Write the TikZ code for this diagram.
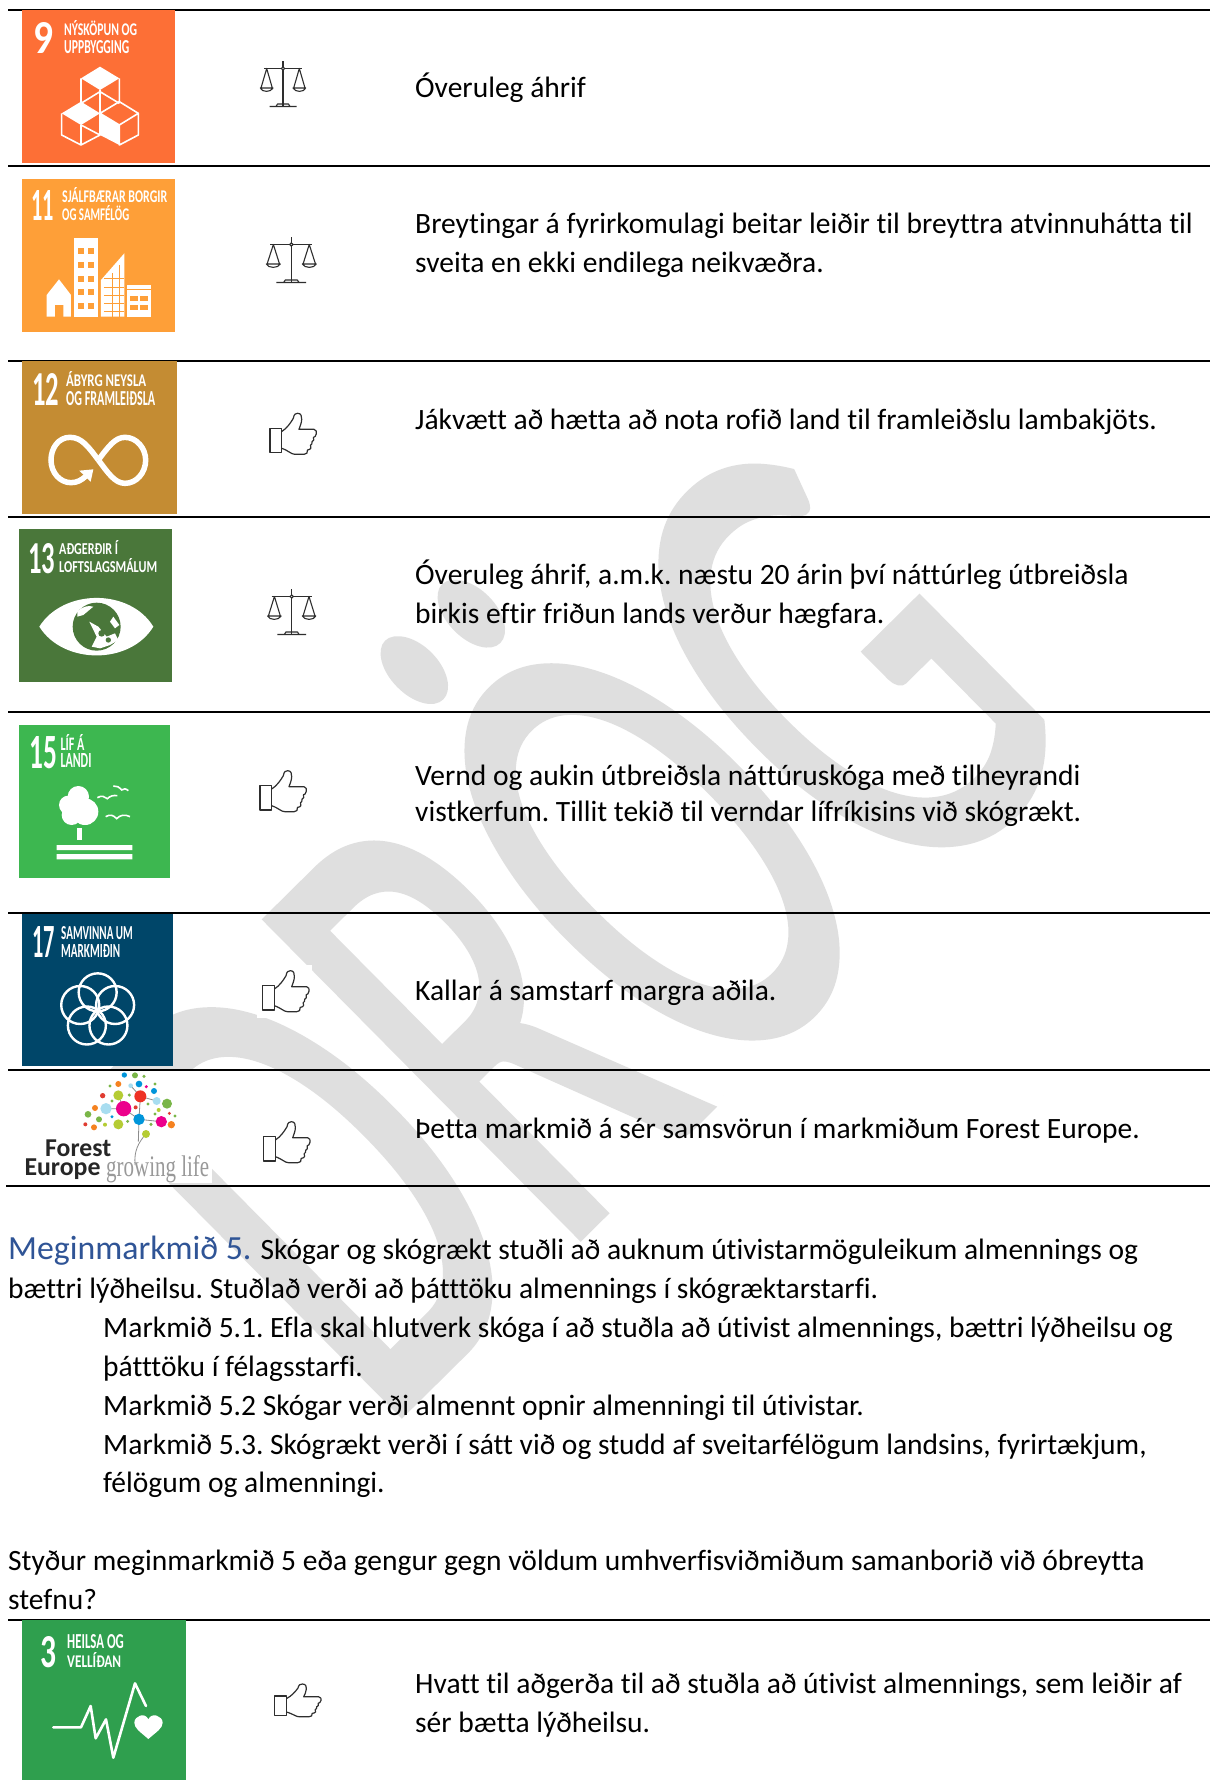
\documentclass[tikz,border=0pt]{standalone}
\usepackage{fontspec}
\usepackage{graphicx}
\setmainfont[Ligatures=NoCommon]{Carlito}
\newfontfamily\serifx{Liberation Serif}
\newfontfamily\wmfont[FakeBold=1.1]{Carlito}
\frenchspacing
\definecolor{wm}{HTML}{DFDFDF}
\definecolor{sdgnine}{HTML}{FD6F36}
\definecolor{sdgeleven}{HTML}{FE9F38}
\definecolor{sdgtwelve}{HTML}{C48C33}
\definecolor{sdgthirteen}{HTML}{4A773A}
\definecolor{sdgfifteen}{HTML}{3DB750}
\definecolor{sdgseventeen}{HTML}{004669}
\definecolor{sdgthree}{HTML}{2F9F4E}
\definecolor{headblue}{HTML}{2F5496}
\newcommand{\bodyfont}{\fontsize{29.5}{29.5}\selectfont}
\newcommand{\lab}[5]{\node[inner sep=0,anchor=base west,text=white] (#1) at (#2) {\resizebox{#3pt}{#4pt}{\bfseries #5}};}
\newcommand{\para}[3]{\node[bodytext] (#1) at (#2) {#3};}
\tikzset{
  rulef/.style={line width=2pt,black},
  bodytext/.style={inner sep=0,anchor=base west,text=black,font=\bodyfont},
  ico/.style={line width=1.6pt,draw=white},
  icon line/.style={line width=1.1pt,draw=black!82,line join=round},
  scalesicon/.pic={
    \draw[icon line,line width=1.3pt] (0,-22.5) -- (0,23);
    \draw[icon line] (-19,-15) -- (19,-15);
    \draw[icon line,fill=white] (0,-15) circle (1.6);
    \draw[icon line] (-13.5,23) -- (13.5,23) (-7,23) -- (-5.5,20.5) -- (5.5,20.5) -- (7,23);
    \draw[icon line] (-16.3,-15) -- (-22,4.5) -- (-10.7,4.5) -- cycle (-22.7,4.5) .. controls (-21,9) and (-12,9) .. (-10,4.5) -- cycle;
    \draw[icon line] (16.3,-15) -- (22,4.5) -- (10.7,4.5) -- cycle (22.7,4.5) .. controls (21,9) and (12,9) .. (10,4.5) -- cycle;
  },
  thumbicon/.pic={
    \draw[icon line,line width=1.2pt] (0,15) rectangle (11.7,39.3);
    \draw[icon line,line width=1.2pt] (11.7,18.3) .. controls (17,15) and (21,9) .. (23.3,5)
      .. controls (24,0.5) and (26,0) .. (27.7,0) .. controls (31,0) and (32,3) .. (31.7,6)
      .. controls (31.5,10) and (30,13) .. (29,16) -- (44,16)
      .. controls (46,16) and (47,19) .. (46.3,20.5) .. controls (46,23) and (44.5,24) .. (43.5,24)
      .. controls (44,26) and (44,28) .. (42,28.5) .. controls (42,30) and (42,31.5) .. (40.5,32)
      .. controls (42,33.5) and (41,36.5) .. (37.5,36.7) .. controls (38,39.5) and (36.5,41) .. (34,41)
      -- (25,41) .. controls (21,41) and (19,37.5) .. (11.7,35);
  }
}
\begin{document}
\begin{tikzpicture}[x=1pt,y=-1pt]
\useasboundingbox (0,0) rectangle (1210,1780);
\fill[white] (0,0) rectangle (1210,1780);
% watermark
\node[inner sep=0,anchor=base west,rotate=44.7,text=wm] (wmark) at (381,1434)
  {\scalebox{.585}[1]{\fontsize{695}{695}\selectfont\wmfont DRÖG}};
% rules
\foreach \yy/\xa in {10/8,165.5/8,361/8,517/8,712/8,913/8,1070/8,1186/6,1620/8}
  \draw[rulef] (\xa,\yy) -- (1210,\yy);
% ---- SDG 9
\fill[sdgnine] (22,10) rectangle (175,163);
\lab{n9}{33,53.5}{20}{31}{9}
\lab{n9a}{64,35}{73}{15}{NÝSKÖPUN OG}
\lab{n9b}{64,53}{65}{13}{UPPBYGGING}
\begin{scope}[scale=1/3]
  \fill[white] (300,200) -- (358,235) -- (300,270) -- (243,235) -- cycle;
  \draw[ico,line join=round] (243,235) -- (243,310) (358,235) -- (358,310) (300,270) -- (300,340)
    (243,310) -- (300,275) -- (358,310);
  \fill[white] (243,305) -- (300,340) -- (243,375) -- (185,340) -- cycle;
  \draw[ico,line join=round] (185,340) -- (185,405) -- (243,435) -- (300,405) -- (300,340)
    (243,375) -- (243,435) (243,375) -- (300,405);
  \fill[white] (300,340) -- (358,375) -- (358,435) -- (300,405) -- cycle;
  \draw[ico,line join=round] (358,305) -- (415,340) -- (358,375) -- (300,340) -- cycle
    (415,340) -- (415,405) -- (358,435) -- (358,375);
\end{scope}
\pic at (283,83.5) {scalesicon};
% ---- SDG 11
\fill[sdgeleven] (22,179) rectangle (175,332);
\lab{n11}{31,220.7}{22.7}{30}{11}
\lab{n11a}{62,202.7}{105}{15}{SJÁLFBÆRAR BORGIR}
\lab{n11b}{62,220.7}{67}{15}{OG SAMFÉLÖG}
\begin{scope}[scale=1/3]
  \fill[white] (140,950) -- (140,885) -- (177,838) -- (213,885) -- (213,950) -- (190,950) -- (190,915) -- (165,915) -- (165,950) -- cycle;
  \fill[white] (223,713) rectangle (295,950);
  \foreach \wy in {745,787,828,868,908}
    \foreach \wx in {235,265}
      \fill[sdgeleven] (\wx,\wy) rectangle ++(17,18);
  \fill[white] (303,950) -- (303,840) -- (373,760) -- (373,950) -- cycle;
  \foreach \wy in {836,862,888,912,935}
    \draw[sdgeleven,line width=1pt] (312,\wy) -- (373,\wy);
  \draw[sdgeleven,line width=1pt] (337,820) -- (337,950) (358,795) -- (358,950);
  \fill[white] (381,855) rectangle (453,950);
  \draw[sdgeleven,line width=1pt] (381,870) -- (453,870);
  \foreach \wy in {888,915}
    \foreach \wx in {391,420}
      \fill[sdgeleven] (\wx,\wy) rectangle ++(23,14);
\end{scope}
\pic[xscale=1.1] at (291.3,259.5) {scalesicon};
% ---- SDG 12
\fill[sdgtwelve] (22,361) rectangle (177,514);
\lab{n12}{32,405}{27}{32}{12}
\lab{n12a}{66,386}{80}{15}{ÁBYRG NEYSLA}
\lab{n12b}{66,405}{89}{14}{OG FRAMLEIÐSLA}
\begin{scope}[shift={(0,350)},scale=1/3]
  \draw[white,line width=5.5pt] (295,330) .. controls (265,290) and (245,262) .. (210,262)
    .. controls (175,262) and (153,295) .. (153,330) .. controls (153,368) and (180,398) .. (213,398)
    .. controls (232,398) and (245,390) .. (258,378);
  \fill[white] (238,362) -- (280,358) -- (272,395) -- cycle;
  \draw[white,line width=5.5pt] (295,330) .. controls (325,290) and (345,262) .. (375,262)
    .. controls (410,262) and (437,295) .. (437,330) .. controls (437,368) and (410,400) .. (375,400)
    .. controls (345,400) and (325,370) .. (295,330);
\end{scope}
\pic at (270,413.3) {thumbicon};
% ---- SDG 13
\fill[sdgthirteen] (19,529) rectangle (172,682);
\lab{n13}{28,573}{27}{30}{13}
\lab{n13a}{59,554}{59}{14}{AÐGERÐIR Í}
\lab{n13b}{59,572.7}{98}{14}{LOFTSLAGSMÁLUM}
\begin{scope}[shift={(0,350)},scale=1/3]
  \fill[white] (118,830) .. controls (190,715) and (390,715) .. (460,830) .. controls (390,945) and (190,945) .. (118,830) -- cycle;
  \fill[sdgthirteen] (290,830) circle (72);
  \fill[white] (232,785) .. controls (245,770) and (265,765) .. (280,770) -- (262,785) -- (250,795) -- (232,800) -- cycle;
  \fill[white] (268,815) -- (295,830) -- (320,860) -- (345,850) -- (355,870) -- (330,885) -- (300,895) -- (275,890) -- (290,860) -- cycle;
  \fill[white] (340,800) -- (358,825) -- (345,835) -- (330,815) -- cycle;
  \fill[sdgthirteen] (305,850) circle (10) (325,870) circle (8);
\end{scope}
\pic[xscale=1.06] at (291.7,611.5) {scalesicon};
% ---- SDG 15
\fill[sdgfifteen] (19,725) rectangle (170,878);
\lab{n15}{29,768}{27.7}{32}{15}
\lab{n15a}{60.3,750}{24}{16}{LÍF Á}
\lab{n15b}{60.3,767.7}{31}{14}{LANDI}
\begin{scope}[shift={(0,700)},scale=1/3]
  \fill[white] (235,290) circle (32) (205,315) circle (28) (255,335) circle (40) (215,345) circle (30);
  \fill[white] (231,385) rectangle (247,420);
  \fill[white] (170,435) rectangle (397,450) (170,462) rectangle (397,478);
  \draw[white,line width=1.6pt] (292,293) .. controls (305,285) and (315,290) .. (322,296) .. controls (330,288) and (340,285) .. (352,287);
  \draw[white,line width=1.6pt] (340,258) .. controls (350,256) and (358,262) .. (365,270) .. controls (370,265) and (378,265) .. (385,272);
  \draw[white,line width=1.6pt] (317,350) .. controls (330,342) and (340,345) .. (350,356) .. controls (360,345) and (375,342) .. (390,350);
\end{scope}
\pic at (260,770.7) {thumbicon};
% ---- SDG 17
\fill[white] (257,965) rectangle (312,1018);
\fill[sdgseventeen] (22,914) rectangle (173,1066);
\lab{n17}{32,957.7}{22.7}{31}{17}
\lab{n17a}{61,939}{71.7}{13}{SAMVINNA UM}
\lab{n17b}{61,957}{59}{13}{MARKMIÐIN}
\begin{scope}[shift={(0,700)},scale=1/3]
  \foreach \ang in {90,162,234,306,18}
    \draw[white,line width=2.4pt] (293,932) ++({55*cos(\ang)},{-55*sin(\ang)}) circle (57);
\end{scope}
\pic at (262.7,970.7) {thumbicon};
% ---- Forest Europe
\fill[white] (22,1070.5) rectangle (212,1183);
\begin{scope}[shift={(0,700)},scale=1/3]
  \draw[black!45,line width=.8pt] (405,1395) .. controls (402,1350) and (415,1330) .. (437,1302)
    (415,1325) -- (417,1258) -- (421,1189) -- (392,1157) (417,1258) -- (371,1226) -- (318,1226)
    (421,1189) -- (470,1203) (417,1258) -- (484,1265) (371,1226) -- (355,1186);
  \foreach \dx/\dy/\dr/\dc in {
    371/1226/23/EC008C,421/1189/18/EE3124,355/1186/15/B5CC34,318/1226/17/A8DDF0,417/1258/17/0095DA,
    484/1265/17/EC008C,355/1273/15/B5CC34,514/1274/11/F58220,501/1211/15/7AB648,470/1203/12/A8DDF0,
    417/1152/10/0095DA,462/1173/9/0095DA,405/1126/9/7AB648,373/1125/8/0095DA,355/1152/9/F58220,
    308/1187/8/E03C31,285/1224/9/F58220,264/1243/10/7AB648,297/1258/9/7AB648,256/1273/6/E03C31,
    282/1282/9/F58220,315/1274/6/B5CC34,438/1302/12/B5CC34,392/1157/7/A8DDF0,439/1160/5/EC008C,
    465/1152/5/7AB648,330/1158/5/7AB648,432/1129/5/7AB648,388/1185/5/7AB648,336/1203/5/7AB648,
    407/1222/6/E03C31,444/1212/5/7AB648,336/1250/5/0095DA,383/1264/5/7AB648,453/1273/5/7AB648,
    476/1230/6/B5CC34,465/1242/5/7AB648,508/1240/5/E03C31,525/1248/5/7AB648}
    {\definecolor{dotc}{HTML}{\dc}\fill[dotc] (\dx,\dy) circle (\dr);}
\end{scope}
\node[inner sep=0,anchor=base west,text=black!85] (fe1) at (45,1156) {\resizebox{66pt}{!}{\bfseries Forest}};
\node[inner sep=0,anchor=base west,text=black!85] (fe2) at (24.3,1175) {\resizebox{76pt}{!}{\bfseries Europe}};
\node[inner sep=0,anchor=base west,text=black!40] (fe3) at (106,1176) {\resizebox{103pt}{21pt}{\serifx growing life}};
\pic at (263.7,1121.7) {thumbicon};
% ---- SDG 3
\fill[sdgthree] (22,1620) rectangle (186,1780);
\lab{n3}{40.7,1667.3}{16}{31}{3}
\lab{n3a}{67,1648}{56.7}{14}{HEILSA OG}
\lab{n3b}{67,1667.3}{54}{15}{VELLÍÐAN}
\begin{scope}[shift={(0,1590)},scale=1/3]
  \draw[white,line width=2.6pt,line cap=round,line join=round] (160,412) -- (243,412) -- (272,348) -- (287,445) -- (318,388) -- (340,503) -- (405,280) -- (438,348);
  \fill[white] (445,447) .. controls (420,425) and (403,415) .. (403,398) .. controls (403,378) and (435,365) .. (445,388)
    .. controls (455,365) and (488,378) .. (488,398) .. controls (488,415) and (470,425) .. (445,447) -- cycle;
\end{scope}
\pic[yscale=.8] at (274.7,1684) {thumbicon};
% ---- table texts
\para{t1}{415,97}{Óveruleg áhrif}
\para{t2a}{415,233}{Breytingar á fyrirkomulagi beitar leiðir til breyttra atvinnuhátta til}
\para{t2b}{415,272}{sveita en ekki endilega neikvæðra.}
\para{t3}{415,429}{Jákvætt að hætta að nota rofið land til framleiðslu lambakjöts.}
\para{t4a}{415,584}{Óveruleg áhrif, a.m.k. næstu 20 árin því náttúrleg útbreiðsla}
\para{t4b}{415,623}{birkis eftir friðun lands verður hægfara.}
\para{t5a}{415,785.5}{Vernd og aukin útbreiðsla náttúruskóga með tilheyrandi}
\para{t5b}{415,821.5}{vistkerfum. Tillit tekið til verndar lífríkisins við skógrækt.}
\para{t6}{415,1000.5}{Kallar á samstarf margra aðila.}
\para{t7}{415,1138}{Þetta markmið á sér samsvörun í markmiðum Forest Europe.}
% ---- paragraph
\node[inner sep=0,anchor=base west,text=headblue,font=\fontsize{33.8}{33.8}\selectfont] (h5) at (8,1259) {Meginmarkmið 5.};
\para{p1}{260.5,1259.5}{Skógar og skógrækt stuðli að auknum útivistarmöguleikum almennings og}
\para{p2}{8,1298.5}{bættri lýðheilsu. Stuðlað verði að þátttöku almennings í skógræktarstarfi.}
\para{p3}{103,1337.5}{Markmið 5.1. Efla skal hlutverk skóga í að stuðla að útivist almennings, bættri lýðheilsu og}
\para{p4}{103,1376.5}{þátttöku í félagsstarfi.}
\para{p5}{103,1415}{Markmið 5.2 Skógar verði almennt opnir almenningi til útivistar.}
\para{p6}{103,1454}{Markmið 5.3. Skógrækt verði í sátt við og studd af sveitarfélögum landsins, fyrirtækjum,}
\para{p7}{103,1492.5}{félögum og almenningi.}
\para{p8}{8,1570}{Styður meginmarkmið 5 eða gengur gegn völdum umhverfisviðmiðum samanborið við óbreytta}
\para{p9}{8,1609}{stefnu?}
\para{t8a}{415,1693}{Hvatt til aðgerða til að stuðla að útivist almennings, sem leiðir af}
\para{t8b}{415,1732}{sér bætta lýðheilsu.}
\end{tikzpicture}
\end{document}
